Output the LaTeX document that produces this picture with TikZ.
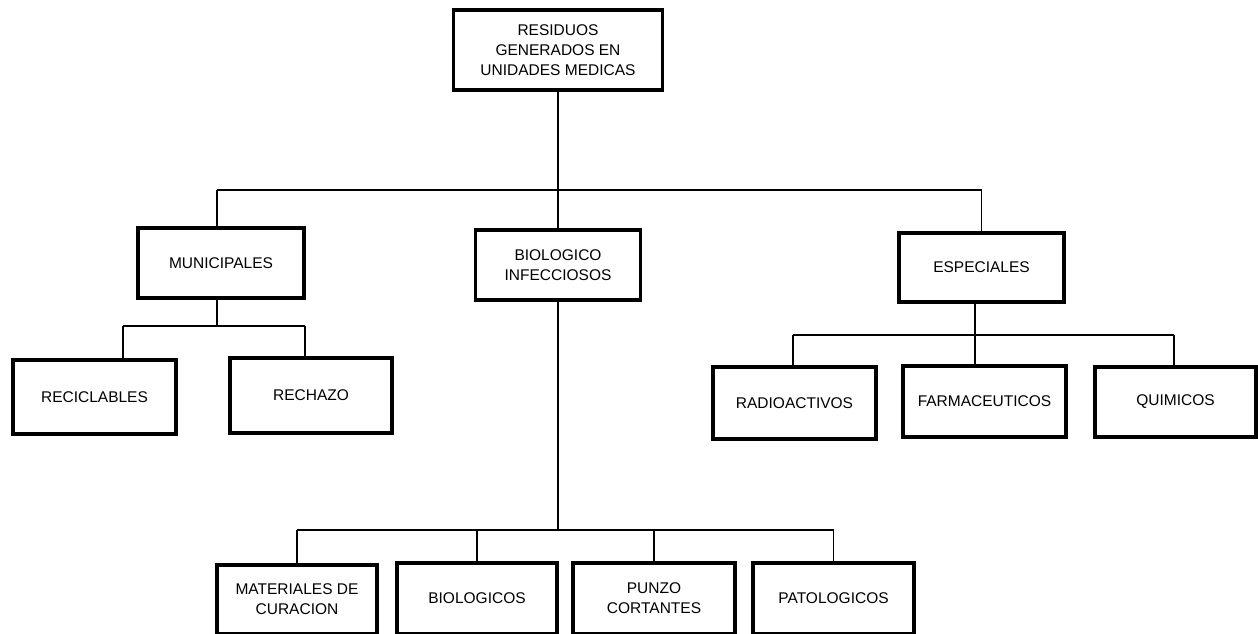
\documentclass[tikz,border=0pt]{standalone}
\usepackage{fontspec}
\setmainfont{Liberation Sans}
\begin{document}
\begin{tikzpicture}[x=1pt,y=-1pt,
  box/.style={draw, line width=3.5pt, fill=white, align=center, inner sep=0pt,
    font=\fontsize{15.5}{20}\selectfont},
  conn/.style={line width=1.3pt}]
\fill[white] (0,0) rectangle (1258,633);
\useasboundingbox (0,0) rectangle (1258,633);
% boxes
\node[box, minimum width=209pt, minimum height=80pt] (top) at (558,50) {RESIDUOS\\GENERADOS EN\\UNIDADES MEDICAS};
\node[box, minimum width=166pt, minimum height=70pt] (mun) at (221,263) {MUNICIPALES};
\node[box, minimum width=165pt, minimum height=70pt] (bio) at (558,265) {BIOLOGICO\\INFECCIOSOS};
\node[box, minimum width=165pt, minimum height=69pt] (esp) at (981.5,267.5) {ESPECIALES};
\node[box, minimum width=163pt, minimum height=74pt] (rec) at (94.5,397) {RECICLABLES};
\node[box, minimum width=162pt, minimum height=75pt] (rech) at (311,395.5) {RECHAZO};
\node[box, minimum width=163pt, minimum height=72pt] (rad) at (794.5,403) {RADIOACTIVOS};
\node[box, minimum width=163pt, minimum height=71pt] (farm) at (984.5,401.5) {FARMACEUTICOS};
\node[box, minimum width=161pt, minimum height=70pt] (quim) at (1175.5,402) {QUIMICOS};
\node[box, minimum width=160pt, minimum height=69pt] (mat) at (297,599.5) {MATERIALES DE\\CURACION};
\node[box, minimum width=160pt, minimum height=71pt] (biol) at (477,598.5) {BIOLOGICOS};
\node[box, minimum width=162pt, minimum height=71pt] (punzo) at (654,598.5) {PUNZO\\CORTANTES};
\node[box, minimum width=161pt, minimum height=71pt] (pato) at (833.5,598.5) {PATOLOGICOS};
% main bus
\coordinate (bus) at (0,190);
\coordinate (mj) at (217,190);
\coordinate (ej) at (esp.north |- bus);
\draw[conn] (top.south) -- (bio.north);
\draw[conn] (mj) -- (ej);
\draw[conn] (mj) -- (mj |- mun.north);
\draw[conn] (ej) -- (esp.north);
% municipales
\coordinate (ms) at (217,326);
\coordinate (r1) at (123,326);
\coordinate (r2) at (305,326);
\draw[conn] (ms |- mun.south) -- (ms);
\draw[conn] (r1) -- (r2);
\draw[conn] (r1) -- (r1 |- rec.north);
\draw[conn] (r2) -- (r2 |- rech.north);
% especiales
\coordinate (es) at (975,335);
\coordinate (e1) at (793,335);
\coordinate (e3) at (1174,335);
\draw[conn] (es |- esp.south) -- (es);
\draw[conn] (e1) -- (e3);
\draw[conn] (e1) -- (e1 |- rad.north);
\draw[conn] (es) -- (es |- farm.north);
\draw[conn] (e3) -- (e3 |- quim.north);
% biologico
\coordinate (bb) at (0,530);
\draw[conn] (bio.south) -- (bio.south |- bb);
\draw[conn] (mat.north |- bb) -- (pato.north |- bb);
\foreach \n in {mat,biol,punzo,pato} \draw[conn] (\n.north) -- (\n.north |- bb);
\end{tikzpicture}
\end{document}
